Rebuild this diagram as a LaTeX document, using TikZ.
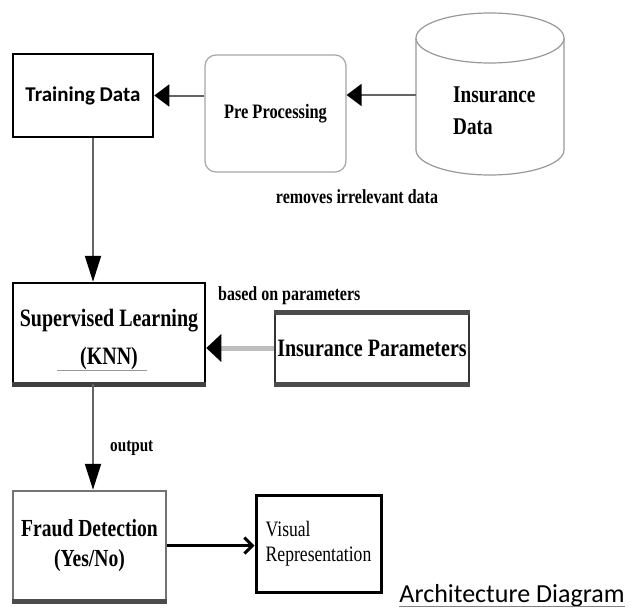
\documentclass[tikz,border=0pt]{standalone}
\usepackage{fontspec}
\setmainfont{Liberation Serif}
\newfontfamily\narrowserif[FakeStretch=0.8]{Liberation Serif}
\newfontfamily\headfont{Carlito}
\usetikzlibrary{shapes.geometric, arrows.meta, positioning, calc}
\definecolor{linegray}{RGB}{100,100,100}
\definecolor{paleline}{RGB}{190,190,190}

\begin{document}
\begin{tikzpicture}[x=1pt, y=-1pt,
    box/.style={draw, line width=2.5pt, fill=white, inner sep=2pt, align=center, font=\narrowserif\bfseries\fontsize{24}{30}\selectfont},
    prep/.style={draw=black!35, line width=1.2pt, rounded corners=11pt, minimum width=141pt, minimum height=117pt, font=\narrowserif\bfseries\fontsize{20.5}{24}\selectfont},
    store/.style={draw=black!40, line width=1.2pt, fill=white},
    note/.style={inner sep=0pt, font=\narrowserif\bfseries\fontsize{20}{24}\selectfont},
    flow/.style={linegray, line width=2pt, -{Triangle[length=15pt, width=22pt, color=black]}},
    dflow/.style={linegray, line width=2pt, -{Triangle[length=26pt, width=16pt, color=black]}}
]
\fill[white] (0,0) rectangle (634,614);

% database drum
\draw[store] (416,38) -- (416,150) arc[start angle=180, end angle=0, x radius=74, y radius=25] -- (564,38);
\draw[store] (490,38) ellipse [x radius=74, y radius=25];
\coordinate (idata) at (416,95);

% upper row
\node[box, minimum width=140pt, minimum height=83pt, font=\headfont\bfseries\fontsize{21}{24}\selectfont] (td) at (83,95.5) {Training Data};
\node[prep] (pp) at (275.5,113.5) {Pre Processing};
\node[anchor=west, align=left, inner sep=0pt, font=\narrowserif\bfseries\fontsize{24}{32}\selectfont] (idtext) at (453,111) {Insurance\\Data};
\node[note, anchor=base] (rmv) at (357,203) {removes irrelevant data};

% middle row
\node[box, minimum width=192pt, minimum height=100pt, font=\narrowserif\bfseries\fontsize{25}{38}\selectfont] (sl) at (109,333) {\rule{0pt}{30pt}Supervised Learning\\(KNN)};
\node[box, line width=2pt, draw=black!80, minimum width=192pt, minimum height=70pt, font=\narrowserif\bfseries\fontsize{25}{30}\selectfont] (ip) at (372,348) {Insurance Parameters};
\node[note, anchor=base west] (bop) at (218,300) {based on parameters};

% lower row
\node[box, draw=black!55, minimum width=153pt, minimum height=109pt, font=\narrowserif\bfseries\fontsize{24.5}{30}\selectfont] (fd) at (89.5,545.5) {Fraud Detection\\(Yes/No)};
\node[box, line width=3pt, minimum width=125pt, minimum height=97pt, align=left, font=\narrowserif\fontsize{22}{25}\selectfont] (vr) at (318.5,543.5) {Visual\\Representation};
\node[note, anchor=west, font=\narrowserif\bfseries\fontsize{19}{22}\selectfont] (outp) at (110,448) {output};
\node[anchor=base, inner sep=0pt, font=\headfont\fontsize{26}{30}\selectfont] (title) at (512,602) {Architecture Diagram};
\draw[black!50, line width=0.8pt] (title.south west) -- (title.south east);

% heavier edges
\draw[black!75, line width=5pt] (sl.south west) -- (sl.south east);
\draw[black!70, line width=5pt] (fd.south west) -- (fd.south east);
\draw[black!70, line width=5pt] (ip.north west) -- (ip.north east) (ip.south west) -- (ip.south east);
\draw[black!40, line width=0.8pt] ($(sl.south)+(-52,-14)$) -- ($(sl.south)+(38,-14)$);

% connectors
\coordinate (spine) at (93,0);
\draw[flow] (idata) -- (idata -| pp.east);
\draw[flow] (td.east -| pp.west) -- (td.east);
\draw[dflow] (spine |- td.south) -- (spine |- sl.north);
\draw[paleline, line width=5pt, -{Triangle[length=15pt, width=27pt, color=black]}] (ip.west) -- (ip.west -| sl.east);
\draw[dflow] (spine |- sl.south) -- (spine |- fd.north);
\draw[line width=3pt, -{Straight Barb[length=8pt, width=16pt]}] (fd.east) -- (fd.east -| vr.west);
\end{tikzpicture}
\end{document}
